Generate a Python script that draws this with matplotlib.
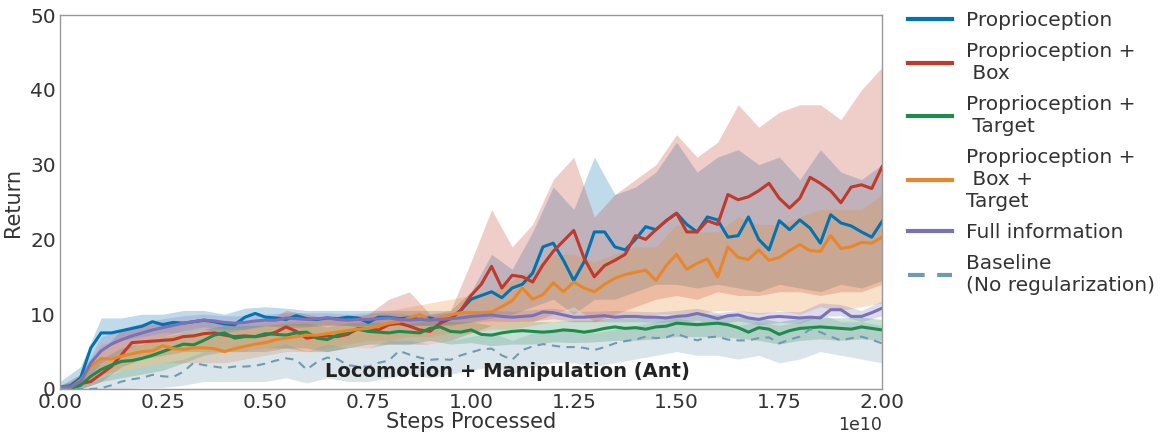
import numpy as np
import matplotlib.pyplot as plt

# steps (in units of 1e10), mean curves read every 0.025e10
steps = np.linspace(0, 2.0, 81)
band_steps = np.linspace(0, 2.0, 41)

proprio = [0.3, 0.4, 1.5, 5.5, 7.5, 7.5, 7.8, 8.1, 8.4, 9.0, 8.6, 8.9, 8.8, 9.0, 9.2, 9.0, 8.7, 8.6, 9.6, 10.1,
           9.6, 9.5, 9.3, 9.8, 9.4, 9.3, 9.5, 9.4, 9.6, 9.5, 8.9, 9.6, 9.6, 9.4, 9.5, 9.3, 9.5, 9.2, 9.4, 10.5,
           12.0, 12.5, 13.0, 12.2, 13.5, 14.0, 15.5, 19.0, 19.5, 17.2, 14.5, 17.0, 21.0, 21.0, 19.0, 18.6, 20.0, 21.7, 21.3, 22.5,
           23.5, 22.0, 21.0, 23.0, 22.6, 20.3, 20.5, 23.0, 20.0, 18.6, 22.5, 21.3, 22.6, 21.5, 19.5, 23.3, 22.2, 21.8, 21.0, 20.3,
           22.4]
proprio_box = [0.0, 0.3, 0.7, 1.0, 2.0, 3.0, 4.6, 6.2, 6.3, 6.4, 6.5, 6.6, 7.0, 7.1, 7.4, 7.5, 7.2, 7.0, 7.1, 7.0,
               7.2, 7.6, 8.3, 7.7, 6.8, 7.0, 7.1, 7.0, 7.3, 8.1, 8.0, 7.9, 8.6, 8.8, 8.4, 7.9, 7.7, 8.8, 9.4, 10.5,
               12.5, 14.0, 16.4, 13.5, 15.2, 15.0, 14.3, 16.6, 18.4, 19.8, 21.2, 17.5, 15.0, 16.5, 17.2, 18.0, 20.5, 20.0, 21.3, 22.5,
               23.5, 21.0, 21.0, 22.5, 22.0, 26.0, 25.3, 25.7, 26.5, 27.5, 25.5, 24.2, 25.5, 28.3, 27.5, 26.5, 24.9, 27.0, 27.3, 26.8,
               29.7]
proprio_target = [0.0, 0.0, 0.5, 1.7, 2.6, 3.2, 3.7, 3.8, 4.1, 4.5, 5.0, 5.5, 6.0, 5.9, 6.5, 7.2, 7.5, 6.8, 7.0, 7.0,
                  7.4, 7.3, 7.2, 7.5, 7.6, 6.8, 6.6, 7.2, 7.6, 8.0, 7.7, 7.6, 7.5, 7.7, 7.6, 7.5, 8.1, 8.3, 7.7, 7.6,
                  7.9, 7.3, 7.2, 7.5, 7.7, 7.8, 7.7, 7.6, 7.7, 7.9, 7.8, 7.6, 7.8, 8.1, 8.3, 8.1, 8.2, 8.0, 8.3, 8.4,
                  8.8, 8.7, 8.6, 8.7, 8.8, 8.6, 8.2, 7.6, 8.2, 8.0, 7.3, 7.8, 8.1, 8.2, 8.3, 8.2, 8.1, 8.0, 8.3, 8.1,
                  7.9]
proprio_box_target = [0.0, 0.2, 1.2, 3.0, 4.1, 4.0, 4.4, 4.7, 5.0, 5.1, 5.8, 5.4, 5.3, 5.5, 5.5, 5.4, 5.0, 5.4, 5.7, 6.0,
                      6.2, 6.6, 6.8, 7.0, 7.2, 7.2, 7.4, 7.6, 7.8, 8.0, 8.1, 8.4, 8.8, 9.0, 9.5, 10.0, 9.1, 9.6, 9.9, 10.2,
                      10.2, 10.2, 10.3, 11.0, 11.8, 13.5, 12.0, 12.6, 14.2, 13.0, 14.3, 13.5, 13.0, 14.0, 14.8, 15.3, 15.6, 15.9, 14.5, 16.5,
                      18.0, 16.0, 16.8, 17.4, 15.0, 19.0, 17.6, 17.3, 18.6, 17.2, 17.6, 18.5, 19.3, 18.5, 18.4, 20.5, 18.8, 19.0, 19.6, 19.5,
                      20.3]
full_info = [0.3, 0.3, 1.0, 3.5, 5.1, 6.0, 6.6, 7.1, 7.5, 7.9, 8.2, 8.5, 8.8, 9.0, 9.2, 9.1, 8.9, 8.8, 8.9, 9.1,
             9.2, 9.2, 9.5, 9.4, 9.3, 9.4, 9.5, 9.3, 9.2, 9.3, 9.3, 9.4, 9.5, 9.3, 9.2, 9.3, 9.2, 9.3, 9.4, 9.5,
             9.7, 9.8, 9.9, 9.7, 9.6, 9.7, 9.8, 10.3, 10.2, 9.9, 9.6, 9.6, 9.7, 9.8, 9.6, 9.7, 9.7, 9.6, 9.6, 9.5,
             9.7, 9.8, 10.1, 9.8, 9.4, 9.8, 9.9, 9.5, 9.3, 9.6, 9.7, 9.6, 9.5, 9.6, 9.5, 10.6, 10.6, 9.7, 9.7, 10.2,
             10.8]
baseline = [0.0, 0.0, 0.0, 0.0, 0.1, 0.5, 1.0, 1.3, 1.5, 1.9, 1.7, 1.6, 2.3, 3.5, 3.2, 3.0, 2.8, 3.0, 3.0, 3.1,
            3.4, 3.8, 4.1, 3.9, 2.6, 3.6, 4.2, 4.0, 3.2, 3.0, 3.0, 3.5, 3.8, 5.1, 4.6, 4.2, 3.9, 4.0, 3.9, 4.5,
            4.9, 5.3, 5.4, 4.5, 3.9, 5.2, 5.7, 6.0, 5.8, 5.6, 5.6, 5.5, 5.2, 5.6, 6.1, 6.4, 6.6, 7.0, 6.8, 6.9,
            7.4, 6.9, 6.5, 6.9, 7.0, 6.6, 6.5, 6.5, 6.8, 6.9, 6.1, 6.6, 7.0, 8.0, 7.6, 7.0, 6.5, 6.8, 7.0, 6.6,
            6.1]

# bands (lower / upper), read every 0.05e10
proprio_lo = [0, 0.5, 5.5, 6.5, 7, 7.5, 7.5, 8, 7.5, 8, 8.5, 8.2, 8.3, 8.5, 8.5, 8, 8.5, 8.5, 8.5, 8.5,
              9, 9.5, 10, 11, 12, 10, 12, 12, 13, 14, 14, 13.5, 14, 13.5, 13, 14, 13.5, 13, 14, 13.5, 14.5]
proprio_hi = [1, 3, 9.5, 9.5, 10, 10, 10.5, 10.5, 10, 10.8, 11, 10.8, 10.5, 10.5, 10.5, 10.5, 10.5, 10.5, 10.5, 10.5,
              13, 18, 16, 21, 27, 24, 31, 26, 27, 29, 33, 29, 31, 32, 30, 31, 28, 32, 29, 28, 30]
box_lo = [0, 0, 1, 3, 4, 4.5, 5, 5, 5, 5, 5, 5.5, 5, 5, 5.5, 5.5, 6, 6, 6, 6.5,
          7.5, 8.5, 9, 9, 10, 11, 9, 10, 11, 12, 12.5, 12, 13, 12.5, 12.5, 13, 13, 12.5, 13, 13, 14]
box_hi = [0.5, 1.5, 5, 8, 8.5, 9, 9, 9.5, 9, 9, 9, 10.5, 10, 9.5, 9.5, 10, 12, 13, 10, 10.5,
          17, 24, 19, 22, 28, 31, 23, 26, 28, 30, 34, 31, 33, 38, 35, 37, 38, 38, 36, 40, 43]
target_lo = [0, 0, 1, 1.5, 2, 2.5, 3.5, 4.5, 5, 5, 5.5, 5.5, 5.5, 5, 5.5, 6, 6, 6, 6.5, 6,
             6.2, 5.8, 6, 6, 6.3, 6.2, 6.3, 6.5, 6.5, 6.7, 7, 7, 7, 6.8, 6.5, 6, 6.5, 6.7, 6.5, 6.7, 6.5]
target_hi = [0.2, 1.5, 4, 5.5, 6, 7, 7.5, 8, 8.5, 8.5, 8.5, 8.7, 8.8, 8.3, 8.8, 9, 8.8, 8.8, 9.2, 9,
             9, 8.5, 9, 9, 9, 9.2, 9.2, 9.5, 9.5, 9.6, 10, 10, 10, 9.6, 9.5, 9, 9.5, 9.6, 9.5, 9.6, 9.3]
bt_lo = [0, 0.2, 2, 2.5, 3, 3.5, 3.5, 3.5, 3.5, 4, 4.5, 5, 5, 5.5, 6, 6.5, 6.5, 7, 7, 7.5,
         7.5, 8, 8, 8.5, 9, 9, 9, 9.5, 9.5, 10, 10, 10, 10.5, 10.5, 10, 10.5, 10, 11, 10.5, 11, 11.5]
bt_hi = [0.3, 2, 6, 6.5, 7, 7.5, 7.5, 7.5, 7.5, 8, 8.5, 9, 9, 9.5, 9.5, 10, 10.5, 11, 11.5, 12,
         12.5, 13, 14.5, 16, 18, 18, 17, 18, 19, 19, 22, 21, 21, 23, 22, 22, 23, 24, 24, 24, 26]
full_lo = [0, 0.3, 3.5, 5, 6.2, 7, 7.8, 8.3, 8, 8, 8.4, 8.6, 8.5, 8.6, 8.5, 8.5, 8.7, 8.5, 8.5, 8.7,
           8.9, 9.1, 9, 9.1, 9.4, 9, 9, 9, 9, 8.9, 9, 9.2, 8.7, 9.1, 8.6, 8.9, 8.8, 9.7, 9.8, 9, 9.8]
full_hi = [0.5, 2, 7, 8, 8.8, 9.4, 9.8, 10, 9.8, 9.8, 10, 10.2, 10.2, 10.2, 10, 10.2, 10.2, 10, 10, 10.2,
           10.5, 10.5, 10.4, 10.6, 10.8, 10.4, 10.4, 10.5, 10.4, 10.3, 10.5, 10.8, 10.2, 10.5, 10.2, 10.4, 10.3, 11.5, 11.3, 10.5, 11.8]
base_lo = [0, 0, 0, 0, 0.2, 0.2, 0.5, 1, 1, 1, 1, 1.5, 0.8, 1.5, 1, 1, 1.5, 2, 1.5, 2,
           2.5, 3, 2, 3, 3.5, 3.5, 3, 3.5, 4, 4.5, 5, 4.5, 4.5, 4, 4.5, 3.5, 4, 5, 4.5, 4, 3.5]
base_hi = [0, 0.3, 1.5, 2.5, 3, 3.5, 4, 5, 5, 5, 5.5, 6, 5, 6, 5.5, 5.5, 6.5, 6.5, 6, 6.5,
           7, 7.5, 6.5, 7.5, 8, 8, 7.5, 8, 8.5, 9, 9.5, 9, 9, 8.5, 9, 8.5, 9, 10, 9, 9, 8.5]

labels = ["Proprioception", "Proprioception +\n Box", "Proprioception +\n Target",
          "Proprioception +\n Box +\nTarget", "Full information", "Baseline\n(No regularization)"]
colors = ["#0173b2", "#c0392b", "#1f8a4c", "#e8872a", "#7a72b8", "#6f9bb0"]

series = [
    (proprio, proprio_lo, proprio_hi),
    (proprio_box, box_lo, box_hi),
    (proprio_target, target_lo, target_hi),
    (proprio_box_target, bt_lo, bt_hi),
    (full_info, full_lo, full_hi),
    (baseline, base_lo, base_hi),
]

plt.rcParams['font.family'] = ['DejaVu Sans']
plt.rcParams['text.color'] = '#333333'
plt.rcParams['axes.labelcolor'] = '#333333'
plt.rcParams['xtick.color'] = '#333333'
plt.rcParams['ytick.color'] = '#333333'

fig = plt.figure(figsize=(11.61, 4.34), dpi=100)
ax = fig.add_axes([0.0517, 0.1037, 0.708, 0.8617])

scale = 1e10
# bands first, then mean lines on top
for (mean, lo, hi), c in zip(series, colors):
    ax.fill_between(band_steps * scale, lo, hi, color=c, alpha=0.25, linewidth=0)

for i, ((mean, lo, hi), c, lab) in enumerate(zip(series, colors, labels)):
    if i == 5:
        ax.plot(steps * scale, mean, color=c, lw=1.5, ls=(0, (4, 3)), label=lab)
    else:
        ax.plot(steps * scale, mean, color=c, lw=2.2, label=lab)

ax.set_xlim(0, 2e10)
ax.set_ylim(0, 50)
ax.set_xticks(np.arange(0, 2.01e10, 0.25e10))
ax.set_yticks(np.arange(0, 51, 10))
ax.tick_params(length=0, labelsize=14.5, pad=3)
ax.xaxis.get_offset_text().set_fontsize(12.5)
for s in ax.spines.values():
    s.set_color('#999999')
    s.set_linewidth(1)

ax.set_xlabel("Steps Processed", fontsize=15, labelpad=0)
ax.set_ylabel("Return", fontsize=15, labelpad=5)
ax.text(0.544, 0.048, "Locomotion + Manipulation (Ant)", transform=ax.transAxes,
        ha='center', va='center', fontsize=14, fontweight='bold', color='#222222')

leg = ax.legend(loc='upper left', bbox_to_anchor=(1.009, 1.06), frameon=False, fontsize=14.5,
                handlelength=2.2, labelspacing=0.6, handletextpad=0.7)
for h in leg.get_lines():
    h.set_linewidth(3)

fig.savefig("out.png", dpi=100)
